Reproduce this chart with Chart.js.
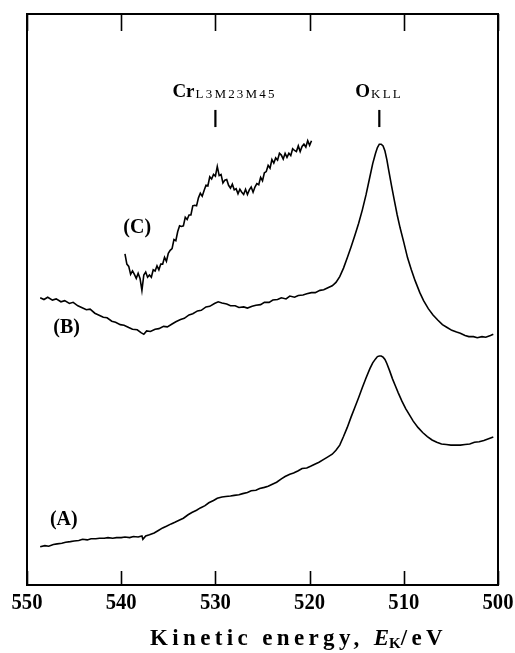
<!DOCTYPE html>
<html>
<head>
<meta charset="utf-8">
<script src="https://cdn.jsdelivr.net/npm/chart.js@4.4.1/dist/chart.umd.min.js"></script>
<style>
html,body{margin:0;padding:0;background:#fff;}
canvas{display:block;}
</style>
</head>
<body>
<canvas id="c" width="515" height="653"></canvas>
<script>
// ---- data (kinetic energy in eV, intensity in arbitrary units) ----
const tickValues = [550, 540, 530, 520, 510, 500];
const tickLabels = ['550', '540', '530', '520', '510', '500'];
const axisTitle = ['Kinetic energy, ', 'E', 'K', '/eV'];
const seriesNames = ['(A)', '(B)', '(C)'];
const peakNames = [['Cr', 'L3M23M45'], ['O', 'KLL']];
const peakEnergies = [530, 512.6];

const energyA = [548.6,548.1,547.7,547.2,546.8,546.3,545.9,545.4,545.0,544.5,544.1,543.6,543.2,542.7,542.3,541.8,541.4,540.9,540.5,540.0,539.6,539.1,538.7,538.2,537.8,537.7,537.4,537.0,536.5,536.1,535.6,535.2,534.7,534.3,533.8,533.4,532.9,532.5,532.0,531.6,531.1,530.7,530.2,529.8,529.3,528.9,528.4,528.0,527.5,527.1,526.6,526.2,525.7,525.3,524.8,524.4,523.9,523.5,523.0,522.6,522.1,521.7,521.2,520.8,520.3,519.9,519.4,519.0,518.5,518.1,517.6,517.2,516.8,516.4,516.0,515.6,515.2,514.8,514.4,514.0,513.6,513.3,513.0,512.8,512.6,512.4,512.2,512.0,511.8,511.5,511.2,510.9,510.6,510.2,509.8,509.4,509.0,508.5,508.0,507.5,507.0,506.5,506.0,505.5,505.0,504.5,504.0,503.5,503.0,502.5,502.0,501.5,501.0,500.5];
const intensityA = [6.7,6.9,6.8,7.1,7.2,7.3,7.5,7.6,7.7,7.8,8.0,7.9,8.1,8.1,8.2,8.2,8.3,8.2,8.3,8.3,8.4,8.3,8.5,8.4,8.6,8.0,8.6,8.8,9.1,9.5,10.0,10.3,10.7,11.0,11.4,11.7,12.3,12.7,13.1,13.5,13.9,14.4,14.8,15.2,15.4,15.5,15.6,15.7,15.8,16.0,16.2,16.5,16.6,16.9,17.1,17.3,17.7,18.0,18.6,19.0,19.4,19.6,20.0,20.4,20.5,20.8,21.2,21.5,22.0,22.4,22.9,23.6,24.5,26.0,27.6,29.4,31.1,32.8,34.6,36.3,37.9,38.9,39.6,40.0,40.1,40.1,39.9,39.5,38.8,37.5,36.1,34.9,33.7,32.2,30.9,29.8,28.7,27.6,26.7,26.0,25.4,25.0,24.7,24.6,24.5,24.5,24.5,24.6,24.7,25.0,25.1,25.3,25.6,25.9];

const energyB = [548.6,548.2,547.8,547.3,546.9,546.4,546.0,545.5,545.1,544.6,544.2,543.7,543.3,542.8,542.4,541.9,541.5,541.0,540.6,540.1,539.7,539.2,538.8,538.3,537.9,537.6,537.3,536.9,536.4,536.0,535.5,535.1,534.6,534.2,533.7,533.3,532.8,532.4,531.9,531.5,531.0,530.6,530.1,529.7,529.3,528.8,528.4,527.9,527.5,527.0,526.6,526.1,525.7,525.2,524.8,524.3,523.9,523.4,523.0,522.5,522.1,521.6,521.2,520.7,520.3,519.8,519.4,518.9,518.5,518.0,517.6,517.2,516.8,516.4,516.0,515.6,515.2,514.8,514.4,514.0,513.6,513.3,513.0,512.8,512.6,512.4,512.2,512.0,511.8,511.6,511.3,511.0,510.7,510.4,510.0,509.6,509.2,508.8,508.3,507.9,507.4,506.9,506.4,505.9,505.4,504.9,504.4,504.0,503.5,503.1,502.6,502.2,501.7,501.3,500.8,500.5];
const intensityB = [50.3,50.0,50.4,49.9,50.1,49.6,49.8,49.3,49.5,48.9,48.6,48.2,48.3,47.6,47.3,46.9,46.8,46.2,46.0,45.6,45.5,45.1,44.8,44.7,44.2,43.9,44.5,44.4,44.8,44.9,45.3,45.2,45.7,46.1,46.5,46.7,47.3,47.5,48.0,48.1,48.7,48.8,49.3,49.6,49.4,49.2,48.9,48.9,48.6,48.7,48.5,48.8,49.0,49.1,49.5,49.5,49.9,50.0,50.3,50.1,50.6,50.4,50.7,50.8,51.0,51.2,51.2,51.6,51.7,52.1,52.4,53.0,54.0,55.5,57.3,59.2,61.2,63.3,65.7,68.4,71.5,73.8,75.6,76.6,77.2,77.2,76.9,76.0,74.5,72.6,69.9,67.3,64.8,62.6,60.0,57.3,55.2,53.3,51.2,49.8,48.4,47.3,46.4,45.6,45.1,44.6,44.3,44.1,43.7,43.5,43.5,43.3,43.5,43.4,43.7,43.9];

const energyC = [539.6,539.4,539.2,539.0,538.8,538.6,538.4,538.2,538.0,537.8,537.6,537.4,537.2,537.0,536.8,536.6,536.4,536.2,536.0,535.8,535.6,535.4,535.2,535.0,534.8,534.6,534.4,534.2,534.0,533.8,533.6,533.4,533.2,533.0,532.8,532.6,532.4,532.2,532.0,531.8,531.6,531.4,531.2,531.0,530.8,530.6,530.4,530.2,530.0,529.8,529.6,529.4,529.2,529.0,528.8,528.6,528.4,528.2,528.0,527.8,527.6,527.4,527.2,527.0,526.8,526.6,526.4,526.2,526.0,525.8,525.6,525.4,525.2,525.0,524.8,524.6,524.4,524.2,524.0,523.8,523.6,523.4,523.2,523.0,522.8,522.6,522.4,522.2,522.0,521.8,521.6,521.4,521.2,521.0,520.8,520.6,520.4,520.2,520.0,519.8];
const intensityC = [58.0,56.2,55.8,54.4,55.0,54.4,53.7,54.6,53.7,51.6,54.3,54.8,53.9,54.3,53.9,55.2,55.0,55.9,55.2,56.2,
  56.2,57.4,56.7,58.1,58.6,58.9,60.5,60.3,61.9,62.9,62.8,62.9,64.4,64.0,64.8,64.8,66.4,66.5,66.4,67.8,
  68.6,68.1,69.1,70.0,69.9,71.5,71.1,71.9,71.6,73.3,71.7,71.9,70.4,70.9,71.0,70.0,69.5,70.2,69.2,69.4,
  68.5,69.3,68.8,68.4,69.3,68.4,69.2,69.7,68.8,69.7,70.3,70.1,71.4,70.8,72.2,72.4,73.5,73.0,74.5,73.9,
  74.8,74.4,75.6,75.3,74.6,75.6,74.9,75.6,75.2,76.4,76.1,75.9,76.9,75.9,76.8,77.2,76.7,77.8,77.0,77.8];

const toXY = (xs, ys) => xs.map((x, i) => ({x: x, y: ys[i]}));

const SERIF = '"Liberation Serif", "DejaVu Serif", serif';

function drawText(ctx, text, x, y, font, sx, align, ls) {
  ctx.save();
  ctx.font = font;
  ctx.letterSpacing = ls || '0px';
  ctx.textBaseline = 'alphabetic';
  ctx.textAlign = 'left';
  const w = ctx.measureText(text).width * sx;
  let x0 = x;
  if (align === 'center') x0 = x - w / 2;
  else if (align === 'right') x0 = x - w;
  ctx.translate(x0, y);
  ctx.scale(sx, 1);
  ctx.fillText(text, 0, 0);
  ctx.restore();
  return w;
}

const decor = {
  id: 'decor',
  beforeDraw(chart) {
    const ctx = chart.ctx;
    ctx.save();
    ctx.fillStyle = '#fff';
    ctx.fillRect(0, 0, chart.width, chart.height);
    ctx.restore();
  },
  afterDraw(chart) {
    const ctx = chart.ctx;
    const a = chart.chartArea;
    const xs = chart.scales.x, ys = chart.scales.y;
    ctx.save();
    ctx.strokeStyle = '#000';
    ctx.fillStyle = '#000';
    // frame
    ctx.lineWidth = 2;
    ctx.strokeRect(a.left, a.top, a.right - a.left, a.bottom - a.top);
    // inward ticks (top & bottom) and tick labels from the x scale's ticks
    ctx.lineWidth = 1.6;
    xs.ticks.forEach(t => {
      const px = Math.round(xs.getPixelForValue(t.value)) + 0.5;
      ctx.beginPath();
      ctx.moveTo(px, a.bottom); ctx.lineTo(px, a.bottom - 14);
      ctx.moveTo(px, a.top); ctx.lineTo(px, a.top + 17);
      ctx.stroke();
      const lbl = tickLabels[tickValues.indexOf(t.value)];
      drawText(ctx, lbl, xs.getPixelForValue(t.value), a.bottom + 24, 'bold 24px ' + SERIF, 0.86, 'center');
    });
    // peak markers
    ctx.lineWidth = 2.2;
    peakEnergies.forEach(e => {
      const px = xs.getPixelForValue(e);
      ctx.beginPath();
      ctx.moveTo(px, ys.getPixelForValue(83.2));
      ctx.lineTo(px, ys.getPixelForValue(80.2));
      ctx.stroke();
    });
    // peak labels
    const drawLabel = (main, sub, xLeft, base) => {
      const w = drawText(ctx, main, xLeft, base, 'bold 19px ' + SERIF, 1, 'left');
      drawText(ctx, sub, xLeft + w + 1, base + 1, '13px ' + SERIF, 1, 'left', '2.2px');
    };
    drawLabel(peakNames[0][0], peakNames[0][1], xs.getPixelForValue(530) - 43, ys.getPixelForValue(85.4));
    drawLabel(peakNames[1][0], peakNames[1][1], xs.getPixelForValue(512.6) - 24, ys.getPixelForValue(85.4));
    // series labels
    const sf = 'bold 21px ' + SERIF;
    drawText(ctx, seriesNames[2], xs.getPixelForValue(538.3), ys.getPixelForValue(62.9) + 7, sf, 0.95, 'center');
    drawText(ctx, seriesNames[1], xs.getPixelForValue(545.8), ys.getPixelForValue(45.4) + 7, sf, 0.95, 'center');
    drawText(ctx, seriesNames[0], xs.getPixelForValue(546.1), ys.getPixelForValue(11.7) + 7, sf, 0.95, 'center');
    // axis title
    const base = 645;
    const parts = [
      {t: axisTitle[0], f: 'bold 23px ' + SERIF, dy: 0, s: true},
      {t: axisTitle[1], f: 'italic bold 23px ' + SERIF, dy: 0, s: false},
      {t: axisTitle[2], f: 'bold 15px ' + SERIF, dy: 3, s: false},
      {t: axisTitle[3], f: 'bold 23px ' + SERIF, dy: 0, s: true}
    ];
    const left = 150, right = 447;
    let natural = 0, nSpaced = 0;
    parts.forEach(p => { ctx.font = p.f; ctx.letterSpacing = '0px'; p.w0 = ctx.measureText(p.t).width; natural += p.w0; if (p.s) nSpaced += p.t.length; });
    const ls = Math.max(0, (right - left - natural) / nSpaced);
    let x = left;
    parts.forEach(p => {
      x += drawText(ctx, p.t, x, base + p.dy, p.f, 1, 'left', p.s ? ls + 'px' : '0px');
    });
    ctx.restore();
  }
};

new Chart(document.getElementById('c'), {
  type: 'line',
  data: {
    datasets: [
      {label: seriesNames[0], data: toXY(energyA, intensityA)},
      {label: seriesNames[1], data: toXY(energyB, intensityB)},
      {label: seriesNames[2], data: toXY(energyC, intensityC)}
    ].map(d => Object.assign(d, {borderColor: '#000', borderWidth: 1.6, pointRadius: 0, tension: 0, fill: false}))
  },
  options: {
    responsive: false,
    animation: false,
    devicePixelRatio: 1,
    layout: {padding: {left: 27, right: 17, top: 14, bottom: 68}},
    plugins: {legend: {display: false}, tooltip: {enabled: false}},
    scales: {
      x: {
        type: 'linear', reverse: true, min: 500, max: 550, display: false,
        afterBuildTicks: s => { s.ticks = tickValues.map(v => ({value: v})); }
      },
      y: {type: 'linear', min: 0, max: 100, display: false}
    }
  },
  plugins: [decor]
});
</script>
</body>
</html>
